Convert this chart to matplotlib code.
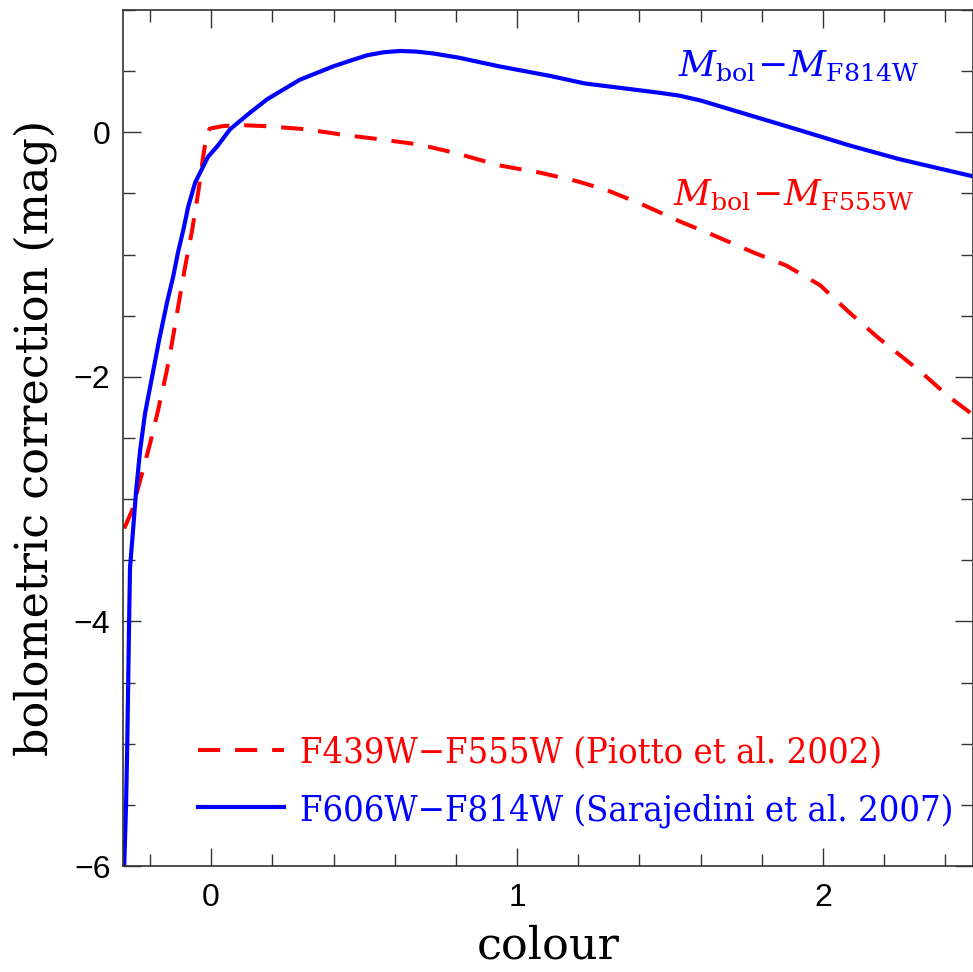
import matplotlib
matplotlib.use("Agg")
import matplotlib.pyplot as plt
from matplotlib.ticker import MultipleLocator

plt.rcParams['mathtext.fontset'] = 'dejavuserif'

# F439W-F555W (Piotto et al. 2002)
red_x = [-0.284, -0.258, -0.229, -0.199, -0.173, -0.144, -0.127, -0.108, -0.085,
         -0.062, -0.042, -0.026, -0.016, -0.005, 0.036, 0.088, 0.18, 0.31, 0.43,
         0.56, 0.68, 0.80, 0.94, 1.075, 1.196, 1.29, 1.40, 1.533, 1.65, 1.77, 1.88,
         1.99, 2.08, 2.18, 2.32, 2.41, 2.49]
red_y = [-3.24, -3.09, -2.82, -2.54, -2.27, -1.94, -1.71, -1.43, -1.10,
         -0.80, -0.49, -0.20, -0.04, 0.03, 0.05, 0.06, 0.05, 0.025, -0.02,
         -0.06, -0.10, -0.17, -0.27, -0.33, -0.40, -0.47, -0.58, -0.73, -0.85, -0.98, -1.09,
         -1.25, -1.46, -1.68, -1.96, -2.16, -2.31]

# F606W-F814W (Sarajedini et al. 2007)
blue_x = [-0.284, -0.278, -0.274, -0.271, -0.268, -0.265, -0.255, -0.245, -0.232,
          -0.216, -0.193, -0.170, -0.144, -0.124, -0.108, -0.091, -0.075, -0.052,
          -0.026, -0.01, 0.02, 0.062, 0.121, 0.183, 0.29, 0.40, 0.46, 0.51, 0.565, 0.618,
          0.67, 0.725, 0.81, 0.94, 1.11, 1.22, 1.38, 1.46, 1.53, 1.6, 1.76, 1.92, 2.09,
          2.25, 2.49]
blue_y = [-6.0, -5.5, -5.0, -4.5, -4.0, -3.56, -3.25, -2.93, -2.60,
          -2.30, -2.00, -1.70, -1.39, -1.18, -0.98, -0.80, -0.61, -0.41,
          -0.28, -0.20, -0.115, 0.025, 0.148, 0.27, 0.43, 0.54, 0.59, 0.63, 0.655, 0.665,
          0.66, 0.645, 0.61, 0.54, 0.46, 0.40, 0.35, 0.325, 0.30, 0.26, 0.14, 0.02, -0.11,
          -0.22, -0.36]

red_label = 'F439W\u2212F555W (Piotto et al. 2002)'
blue_label = 'F606W\u2212F814W (Sarajedini et al. 2007)'

fig = plt.figure(figsize=(9.73, 9.72), dpi=100)
ax = fig.add_axes([0.1264, 0.109, 0.8736, 0.8807])

ax.plot(red_x, red_y, color='#ff0000', lw=2.9, dashes=(5.5, 3.7), label=red_label)
ax.plot(blue_x, blue_y, color='#0000ff', lw=3.0, label=blue_label)

ax.set_xlim(-0.288, 2.49)
ax.set_ylim(-6, 1)

ax.xaxis.set_major_locator(MultipleLocator(1))
ax.xaxis.set_minor_locator(MultipleLocator(0.2))
ax.yaxis.set_major_locator(MultipleLocator(2))
ax.yaxis.set_minor_locator(MultipleLocator(0.5))

ax.tick_params(which='both', direction='in', top=True, right=True, color='#333333', width=1.0)
ax.tick_params(which='major', length=13, labelsize=23, labelfontfamily='Liberation Sans')
ax.tick_params(which='minor', length=8.5)
ax.tick_params(axis='x', which='major', pad=12)
ax.tick_params(axis='y', which='major', pad=9)
for sp in ax.spines.values():
    sp.set_color('#333333')
    sp.set_linewidth(1.2)

ax.set_xlabel('colour', family='DejaVu Serif', fontsize=32, labelpad=8)
ax.set_ylabel('bolometric correction (mag)', family='DejaVu Serif', fontsize=32, labelpad=12)

ax.text(1.526, 0.46, r'$M_{\rm bol}\!-\!M_{\rm F814W}$', color='#0000ff', fontsize=26, va='baseline')
ax.text(1.51, -0.59, r'$M_{\rm bol}\!-\!M_{\rm F555W}$', color='#ff0000', fontsize=26, va='baseline')

leg = ax.legend(loc='lower left', bbox_to_anchor=(0.088, 0.045), frameon=False,
                borderpad=0, borderaxespad=0,
                handlelength=2.4, handletextpad=0.42, labelspacing=0.64,
                labelcolor='linecolor',
                prop={'family': 'DejaVu Serif', 'stretch': 'condensed', 'size': 26})

fig.savefig('out.png', dpi=100)
